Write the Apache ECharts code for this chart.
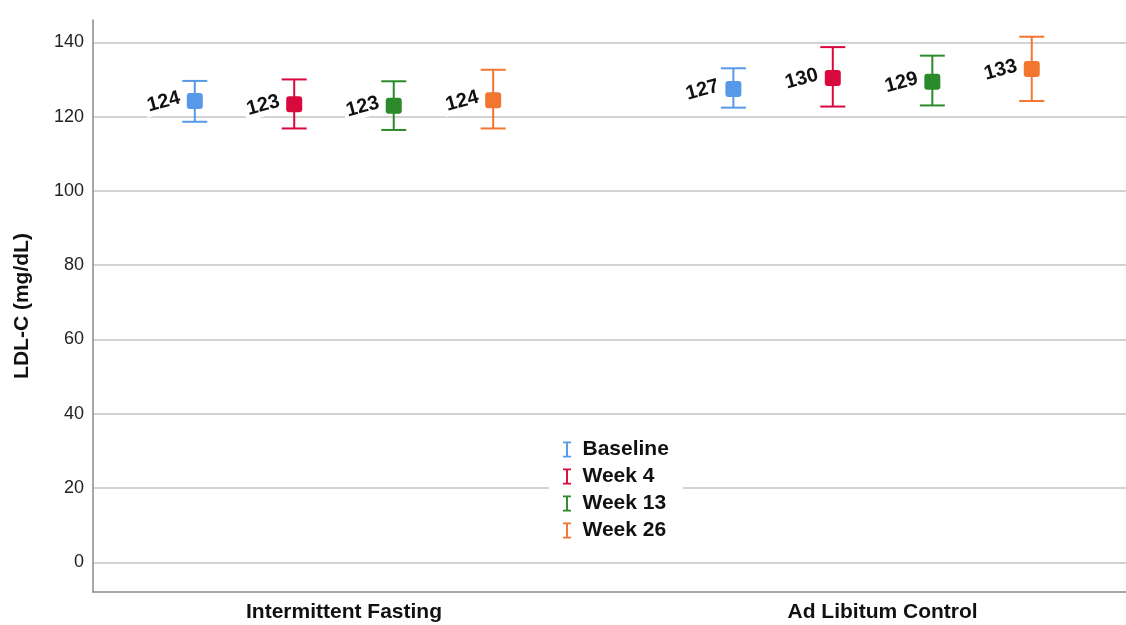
<!DOCTYPE html>
<html>
<head>
<meta charset="utf-8">
<script src="https://cdn.jsdelivr.net/npm/echarts@6/dist/echarts.min.js"></script>
<style>html,body{margin:0;padding:0;background:#fff}#c{width:1126px;height:625px}</style>
</head>
<body>
<div id="c"></div>
<script>
const categories = ['Intermittent Fasting', 'Ad Libitum Control'];
const seriesNames = ['Baseline', 'Week 4', 'Week 13', 'Week 26'];
const yTicks = [0, 20, 40, 60, 80, 100, 120, 140];

const baselineMean = [124.2, 127.4];
const baselineLow  = [118.6, 122.4];
const baselineHigh = [129.6, 133.0];

const week4Mean = [123.3, 130.4];
const week4Low  = [116.8, 122.7];
const week4High = [130.0, 138.7];

const week13Mean = [122.9, 129.4];
const week13Low  = [116.4, 123.0];
const week13High = [129.5, 136.4];

const week26Mean = [124.4, 132.8];
const week26Low  = [116.8, 124.2];
const week26High = [132.6, 141.5];

const colors = ['#5599e8', '#d8093c', '#2b8a2b', '#f27530'];
const FONT = '"Liberation Sans", Arial, Helvetica, sans-serif';
const offsets = [-0.277, -0.0924, 0.0924, 0.277];

const allData = [
  [baselineMean, baselineLow, baselineHigh],
  [week4Mean, week4Low, week4High],
  [week13Mean, week13Low, week13High],
  [week26Mean, week26Low, week26High]
];

function renderItem(params, api) {
  const xv = api.value(0);
  const p = api.coord([xv, api.value(1)]);
  const lo = api.coord([xv, api.value(2)]);
  const hi = api.coord([xv, api.value(3)]);
  const color = api.visual('color');
  const capHalf = 12.5;
  const ls = { stroke: color, lineWidth: 2 };
  return {
    type: 'group',
    children: [
      { type: 'line', shape: { x1: p[0], y1: lo[1], x2: p[0], y2: hi[1] }, style: ls },
      { type: 'line', shape: { x1: p[0] - capHalf, y1: lo[1], x2: p[0] + capHalf, y2: lo[1] }, style: ls },
      { type: 'line', shape: { x1: p[0] - capHalf, y1: hi[1], x2: p[0] + capHalf, y2: hi[1] }, style: ls },
      { type: 'rect', shape: { x: p[0] - 8, y: p[1] - 8, width: 16, height: 16, r: 3 }, style: { fill: color } },
      {
        type: 'text',
        x: p[0] - 31, y: p[1] + 1,
        rotation: 15 * Math.PI / 180,
        style: {
          text: String(Math.round(api.value(1))),
          x: 0, y: 0,
          align: 'center', verticalAlign: 'middle',
          font: 'bold 20px ' + FONT,
          fill: '#111',
          backgroundColor: '#fff',
          padding: [1, 3]
        }
      }
    ]
  };
}

const series = seriesNames.map((name, s) => ({
  name: name,
  type: 'custom',
  renderItem: renderItem,
  itemStyle: { color: colors[s] },
  data: categories.map((c, g) => [g + offsets[s], allData[s][0][g], allData[s][1][g], allData[s][2][g]])
}));

const chart = echarts.init(document.getElementById('c'), null, { renderer: 'canvas' });
chart.setOption({
  animation: false,
  backgroundColor: '#fff',
  grid: { left: 93, right: 0, top: 20, bottom: 33, containLabel: false, outerBoundsMode: 'none' },
  legend: {
    orient: 'vertical',
    left: 549,
    top: 435,
    backgroundColor: '#fff',
    padding: [4, 14, 4, 14],
    itemWidth: 9,
    itemHeight: 16,
    itemGap: 6,
    icon: 'path://M0,0H10V2.2H6.2V17.8H10V20H0V17.8H3.8V2.2H0Z',
    textStyle: { fontFamily: FONT, fontWeight: 'bold', fontSize: 21, lineHeight: 21, color: '#111', padding: [0, 0, 0, 6] },
    data: seriesNames
  },
  xAxis: {
    type: 'value',
    min: -0.466,
    max: 1.452,
    axisLine: { show: true, onZero: false, lineStyle: { color: '#8a8a8a', width: 1.5 } },
    axisTick: { show: false },
    splitLine: { show: false },
    axisLabel: {
      customValues: [0, 1],
      formatter: v => categories[Math.round(v)] || '',
      fontFamily: FONT, fontWeight: 'bold', fontSize: 21, color: '#111', margin: 10
    }
  },
  yAxis: {
    type: 'value',
    min: -8,
    max: 146,
    name: 'LDL-C (mg/dL)',
    nameLocation: 'middle',
    nameGap: 60,
    nameRotate: 90,
    nameTextStyle: { fontFamily: FONT, fontWeight: 'bold', fontSize: 21, color: '#111' },
    axisLine: { show: true, onZero: false, lineStyle: { color: '#8a8a8a', width: 1.5 } },
    axisTick: { show: false, customValues: yTicks },
    axisLabel: { customValues: yTicks, fontFamily: FONT, fontSize: 18, color: '#222', margin: 9 },
    splitLine: { show: true, lineStyle: { color: '#c4c4c4', width: 1.5 } }
  },
  series: series
});
</script>
</body>
</html>
